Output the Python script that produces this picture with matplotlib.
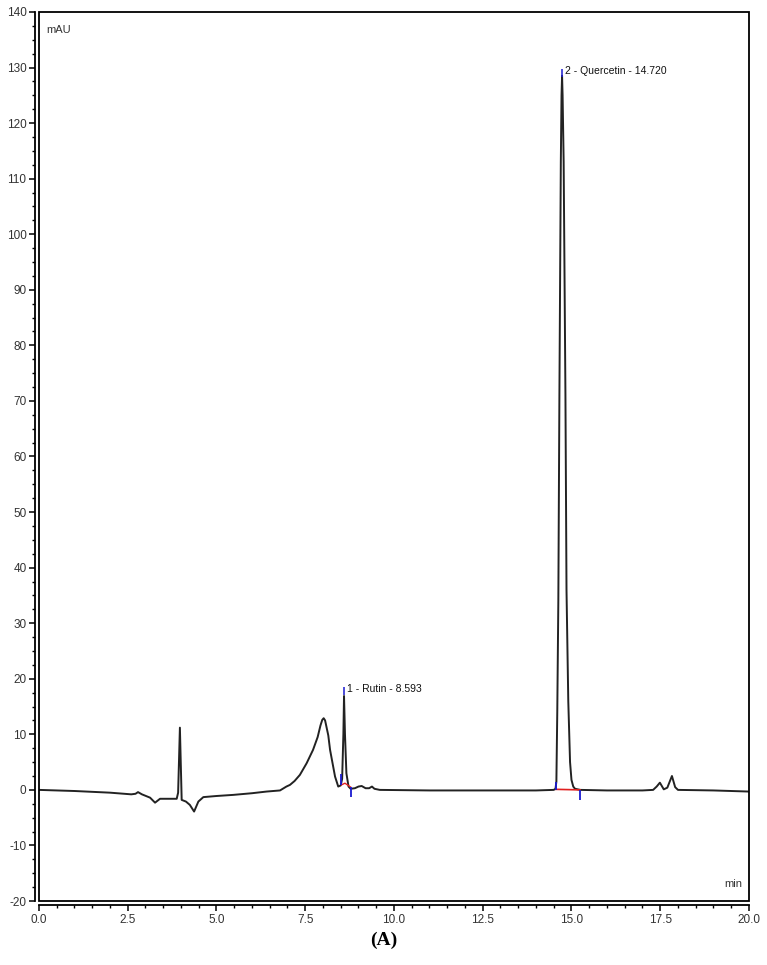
import matplotlib.pyplot as plt
from matplotlib.patches import Rectangle
from matplotlib.ticker import MultipleLocator

# chromatogram trace (min, mAU)
time_min = [
    0.0, 1.0, 2.0, 2.6, 2.72, 2.79, 2.9, 3.13, 3.27, 3.41, 3.6, 3.88,
    3.92, 3.97, 4.02, 4.14, 4.25, 4.37, 4.49, 4.63, 5.0, 5.47, 6.0, 6.41,
    6.79, 6.97, 7.07, 7.2, 7.35, 7.54, 7.72, 7.85, 7.93, 7.98, 8.02, 8.06,
    8.1, 8.15, 8.2, 8.34,
    8.43, 8.5, 8.54, 8.575, 8.593, 8.62, 8.66, 8.72, 8.78, 8.9, 9.0, 9.09,
    9.2, 9.3, 9.38, 9.45, 9.6, 11.0, 12.5, 14.0, 14.5, 14.55, 14.575, 14.6,
    14.63, 14.66, 14.7, 14.72, 14.735, 14.75, 14.78, 14.83, 14.86, 14.91,
    14.96, 15.0, 15.05, 15.1,
    15.25, 16.0, 17.0, 17.3, 17.4, 17.49, 17.6, 17.7, 17.83, 17.92, 18.0,
    19.0, 20.0,
]
signal_mau = [
    0.0, -0.2, -0.5, -0.8, -0.7, -0.4, -0.8, -1.4, -2.3, -1.6, -1.6, -1.6,
    -0.5, 11.2, -1.8, -2.1, -2.7, -3.9, -2.1, -1.3, -1.1, -0.9, -0.6, -0.3,
    -0.1, 0.6, 0.9, 1.6, 2.7, 4.8, 7.2, 9.5, 11.6, 12.6, 12.9, 12.5,
    11.3, 9.8, 7.2, 2.4,
    0.6, 0.8, 2.0, 10.0, 16.9, 10.0, 3.0, 0.6, 0.2, 0.3, 0.6, 0.7,
    0.3, 0.3, 0.6, 0.2, 0.0, -0.1, -0.1, -0.1, 0.0, 0.2, 1.5, 14.0,
    34.0, 71.0, 113.0, 125.0, 128.5, 125.0, 113.0, 71.0, 36.0, 16.0,
    5.0, 1.8, 0.6, 0.2,
    0.0, -0.1, -0.1, 0.0, 0.6, 1.3, 0.1, 0.4, 2.5, 0.5, 0.0,
    -0.1, -0.3,
]

# integration baselines (red) and peak delimiters (blue)
rutin_base_t = [8.52, 8.62, 8.78]
rutin_base_y = [0.9, 1.2, 0.5]
querc_base_t = [14.56, 15.24]
querc_base_y = [0.1, 0.0]
delim_t = [8.52, 8.78, 14.56, 15.24]
delim_lo = [0.9, -1.2, 0.0, -1.8]
delim_hi = [2.9, 0.5, 1.5, 0.0]

peak_names = ["1 - Rutin - 8.593", "2 - Quercetin - 14.720"]
peak_t = [8.593, 14.735]
peak_top = [17.1, 128.3]

plt.rcParams['font.family'] = ['Liberation Sans', 'DejaVu Sans']
plt.rcParams['axes.unicode_minus'] = False

fig = plt.figure(figsize=(7.67, 9.65), dpi=100)
ax = fig.add_axes([0.0508, 0.0663, 0.9257, 0.9213])

ax.plot(time_min, signal_mau, color="#222222", lw=1.4, zorder=3)
ax.plot(rutin_base_t, rutin_base_y, color="#e02020", lw=1.0, zorder=4)
ax.plot(querc_base_t, querc_base_y, color="#e02020", lw=1.2, zorder=4)
ax.vlines(delim_t, delim_lo, delim_hi, color="#1a1ad0", lw=1.3, zorder=5)

for name, t, top in zip(peak_names, peak_t, peak_top):
    ax.vlines(t, top, top + 1.5, color="#1a1ad0", lw=1.1, zorder=5)
    ax.text(t + 0.08, top + 1.0, name, fontsize=7.5, color="#111111",
            va="center", ha="left")

ax.set_xlim(0, 20)
ax.set_ylim(-20, 140)
ax.xaxis.set_major_locator(MultipleLocator(2.5))
ax.xaxis.set_minor_locator(MultipleLocator(0.5))
ax.yaxis.set_major_locator(MultipleLocator(10))
ax.yaxis.set_minor_locator(MultipleLocator(2.5))
ax.xaxis.set_major_formatter(lambda v, p: f"{v:.1f}")

for side in ["top", "right"]:
    ax.spines[side].set_visible(False)
for side in ["left", "bottom"]:
    ax.spines[side].set_position(("outward", 3))
    ax.spines[side].set_linewidth(1.3)

ax.tick_params(which="major", length=4, width=1.1, labelsize=8.5,
               labelcolor="#333333", pad=2)
ax.tick_params(which="minor", length=2.5, width=1.0)

# plot frame sits inside the offset axis lines
ax.add_patch(Rectangle((0, 0), 1, 1, transform=ax.transAxes, fill=False,
                       lw=1.3, edgecolor="black", clip_on=False, zorder=6))

ax.text(0.011, 0.985, "mAU", transform=ax.transAxes, fontsize=8,
        color="#333333", va="top", ha="left")
ax.text(0.99, 0.013, "min", transform=ax.transAxes, fontsize=8,
        color="#333333", va="bottom", ha="right")

fig.text(0.5, 0.026, "(A)", fontsize=14, fontweight="bold",
         family="Liberation Serif", ha="center", va="center")

fig.savefig("out.png")
